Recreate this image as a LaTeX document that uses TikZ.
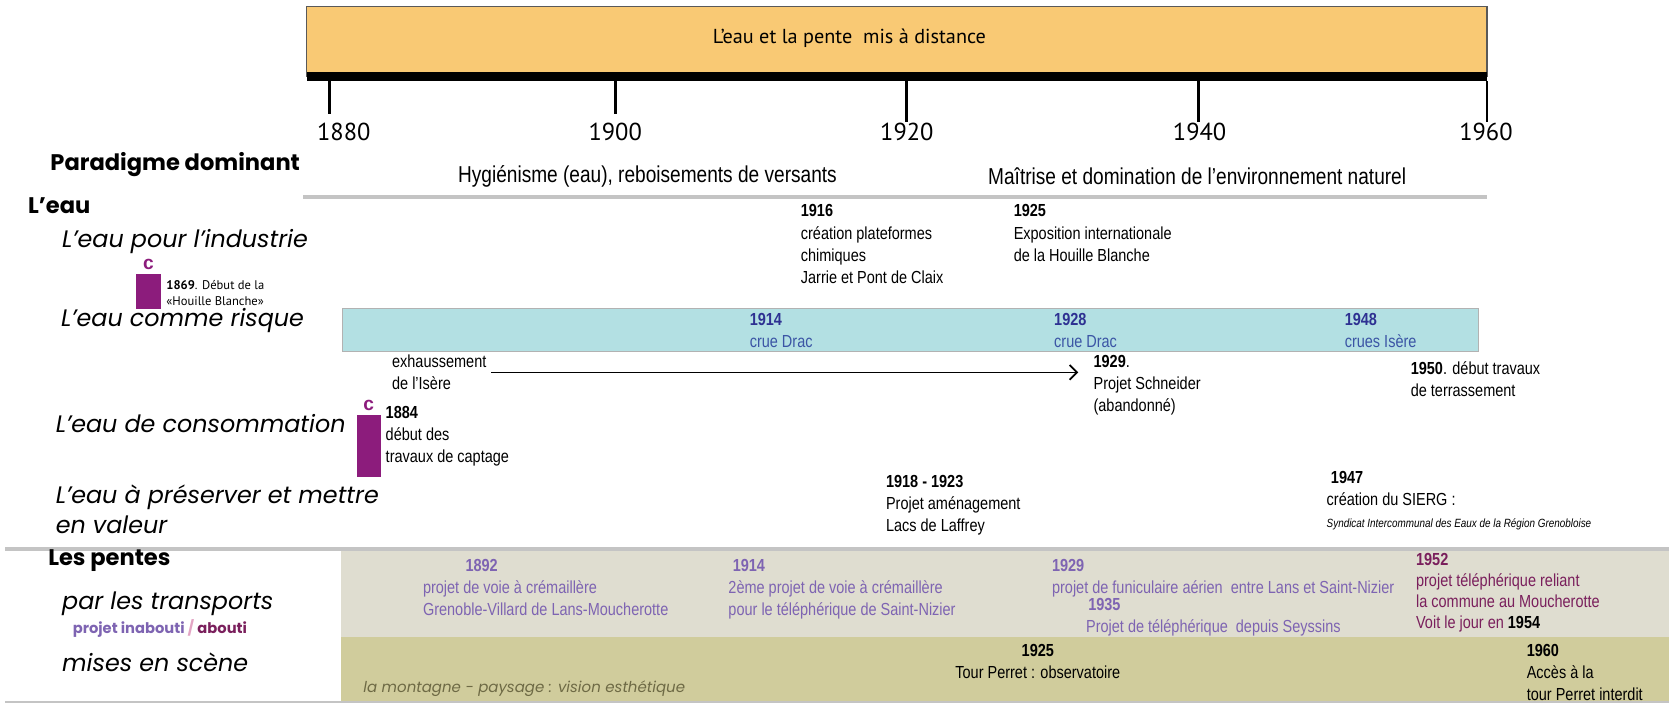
\documentclass[tikz,border=0pt]{standalone}
\usepackage{fontspec}
\setmainfont{Liberation Sans}
\newfontfamily\gothicfont{Poppins}
\newfontfamily\myriadfont{PT Sans}
\newfontfamily\narrowfont{Liberation Sans}[FakeStretch=0.83]
\usetikzlibrary{arrows.meta}

\definecolor{barorange}{HTML}{F9C974}
\definecolor{riskfill}{HTML}{B3E0E3}
\definecolor{capbox}{HTML}{8C1C7C}
\definecolor{riskyear}{HTML}{2E3192}
\definecolor{risktext}{HTML}{3B55A5}
\definecolor{slopeviolet}{HTML}{7E64B2}
\definecolor{slopeplum}{HTML}{7A1F5C}
\definecolor{bandgray}{HTML}{DFDDD0}
\definecolor{bandolive}{HTML}{D0CC9C}
\definecolor{olivetext}{HTML}{6E6A45}
\definecolor{rulegray}{HTML}{C4C4C4}
\definecolor{slashpink}{HTML}{E3A5C4}

\tikzset{
  evt/.style={anchor=north west, align=left, inner sep=0pt,
    font=\narrowfont\fontsize{8.2}{10.4}\selectfont},
  cat/.style={anchor=west, inner sep=0pt,
    font=\gothicfont\itshape\fontsize{11.2}{14}\selectfont},
  head/.style={anchor=west, inner sep=0pt,
    font=\gothicfont\bfseries\fontsize{10.6}{12}\selectfont},
  yearlbl/.style={inner sep=0pt, font=\myriadfont\fontsize{11.5}{13}\selectfont},
  paradigm/.style={anchor=west, inner sep=0pt,
    font=\narrowfont\fontsize{10.8}{13}\selectfont},
  cmark/.style={inner sep=0pt, text=capbox,
    font=\bfseries\fontsize{9}{10}\selectfont}
}

\begin{document}
\begin{tikzpicture}[x=0.5pt, y=-0.5pt]
  \useasboundingbox (0,0) rectangle (1568,660);

  % Title bar and time axis
  \filldraw[fill=barorange, draw=gray!70!black, line width=0.6pt] (288,6) rectangle (1397,72);
  \fill[black] (288,68) rectangle (1397,76);
  \node (title) at (798,36) [font=\myriadfont\fontsize{9.5}{11}\selectfont] %
  {L’eau et la pente\ \ mis à distance};
  \foreach \yr/\xx/\lx/\tb in {1880/310/323/107, 1900/578/578/107, 1920/852/852/115, 1940/1126/1127/115, 1960/1397/1396/115} {
    \draw[line width=1.4pt] (\xx,76) -- (\xx,\tb);
    \node (y\yr) [yearlbl] at (\lx,124) {\yr};
  }

  % Paradigm section: nodes
  \node (paradigme) [head] at (47,155) {Paradigme dominant};
  \node (hygiene) [paradigm] at (430,166) {Hygiénisme (eau), reboisements de versants};
  \node (maitrise) [paradigm] at (928,166) {Maîtrise et domination de l’environnement naturel};
  \draw[rulegray, line width=1.5pt] (285,185) -- (1397,185);

  % Water section: row labels
  \node (eau) [head] at (26,193) {L’eau};
  \node (industrie) [cat] at (58,227) {L’eau pour l’industrie};
  \node (risque) [cat] at (57,301) {L’eau comme risque};
  \node (conso) [cat] at (52,398) {L’eau de consommation};
  \node (preserver) [cat, anchor=north west, align=left] at (52,455) %
  {L’eau à préserver et mettre\\en valeur};

  % Water section: shapes
  \filldraw[fill=riskfill, draw=gray!60, line width=0.6pt] (322,290) rectangle (1389,330);
  \fill[capbox] (128,257) rectangle (151,290);
  \fill[capbox] (335,390) rectangle (358,448);
  \node (c1869) [cmark] at (139.5,248) {c};
  \node (c1884) [cmark] at (346.5,381) {c};

  % Water section: events
  \node (hb1869) [evt, font=\myriadfont\fontsize{5.9}{7.5}\selectfont] at (156,263) %
  {\textbf{1869}. Début de la\\«Houille Blanche»};
  \node (ind1916) [evt] at (752,192) %
  {\textbf{1916}\\création plateformes\\chimiques\\Jarrie et Pont de Claix};
  \node (ind1925) [evt] at (952,192) %
  {\textbf{1925}\\Exposition internationale\\de la Houille Blanche};
  \node (crue1914) [evt, text=risktext] at (704,294) %
  {\textcolor{riskyear}{\textbf{1914}}\\crue Drac};
  \node (crue1928) [evt, text=risktext] at (990,294) %
  {\textcolor{riskyear}{\textbf{1928}}\\crue Drac};
  \node (crue1948) [evt, text=risktext] at (1263,294) %
  {\textcolor{riskyear}{\textbf{1948}}\\crues Isère};
  \node (exhaus) [evt] at (368,333) {exhaussement\\de l’Isère};
  \node (sch1929) [evt] at (1027,333) %
  {\textbf{1929}.\\Projet Schneider\\(abandonné)};
  \node (ter1950) [evt] at (1325,339) %
  {\textbf{1950}. début travaux\\de terrassement};
  \node (cap1884) [evt] at (362,381) %
  {\textbf{1884}\\début des\\travaux de captage};
  \node (laff) [evt] at (832,446) %
  {\textbf{1918 - 1923}\\Projet aménagement\\Lacs de Laffrey};
  \node (sierg) [evt] at (1246,442) %
  {\hspace*{2pt}\textbf{1947}\\création du SIERG :\\%
  {\fontsize{5.6}{7}\selectfont\itshape Syndicat Intercommunal des Eaux de la Région Grenobloise}};

  % Water section: connections
  \draw[-{Straight Barb[length=3.5pt,width=7pt]}, line width=0.8pt] %
  ([xshift=2pt]exhaus.east) -- ([xshift=-7pt]exhaus.east -| sch1929.west);

  % Slopes section: bands
  \fill[bandgray] (320,517) rectangle (1568,598);
  \fill[bandolive] (320,598) rectangle (1568,660);
  \draw[rulegray, line width=1.8pt] (5,516) -- (1568,516);
  \draw[rulegray, line width=1.8pt] (5,660) -- (1568,660);

  % Slopes section: row labels
  \node (pentes) [head] at (45,527) {Les pentes};
  \node (transports) [cat] at (58,567) {par les transports};
  \node (legende) [anchor=west, inner sep=0pt, font=\gothicfont\bfseries\fontsize{6.9}{8}\selectfont] %
  at (68,590) {\textcolor{slopeviolet}{projet inabouti} \textcolor{slashpink}{/} \textcolor{slopeplum}{abouti}};
  \node (scene) [cat] at (58,622) {mises en scène};

  % Slopes section: events
  \node (p1892) [evt, text=slopeviolet] at (397,525) %
  {\hspace*{20pt}\textbf{1892}\\projet de voie à crémaillère\\Grenoble-Villard de Lans-Moucherotte};
  \node (p1914) [evt, text=slopeviolet] at (684,525) %
  {\hspace*{2pt}\textbf{1914}\\2ème projet de voie à crémaillère\\pour le téléphérique de Saint-Nizier};
  \node (p1929) [evt, text=slopeviolet] at (988,525) %
  {\textbf{1929}\\projet de funiculaire aérien\ \ entre Lans et Saint-Nizier};
  \node (p1935) [evt, text=slopeviolet] at (1020,562) %
  {\hspace*{1pt}\textbf{1935}\\Projet de téléphérique\ \ depuis Seyssins};
  \node (p1952) [evt, text=slopeplum, font=\narrowfont\fontsize{8.2}{10}\selectfont] at (1330,519) %
  {\textbf{1952}\\projet téléphérique reliant\\la commune au Moucherotte\\%
  Voit le jour en \textcolor{black}{\textbf{1954}}};
  \node (m1925) [evt, anchor=north, align=center] at (975,605) %
  {\textbf{1925}\\Tour Perret : observatoire};
  \node (m1960) [evt] at (1434,605) %
  {\textbf{1960}\\Accès à la\\tour Perret interdit};
  \node (montagne) [anchor=west, inner sep=0pt, text=olivetext, %
  font=\gothicfont\itshape\fontsize{7.05}{9}\selectfont] at (341,647) %
  {la montagne - paysage : vision esthétique};
\end{tikzpicture}
\end{document}
